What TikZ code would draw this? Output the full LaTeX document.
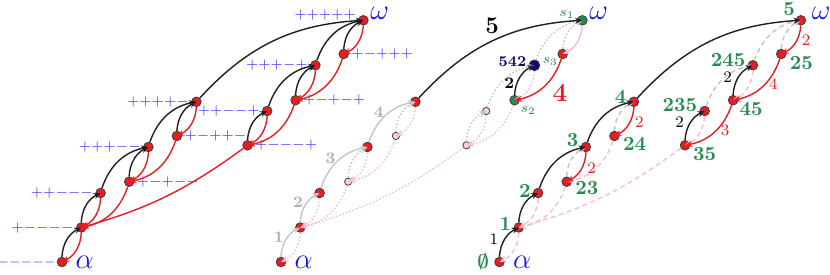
\documentclass[tikz,border=0pt]{standalone}
\usepackage{tikz}
\usetikzlibrary{arrows.meta}

\definecolor{vred}{RGB}{230,30,36}
\definecolor{vpink}{RGB}{250,212,224}
\definecolor{epink}{RGB}{246,190,206}
\definecolor{egrey}{RGB}{196,196,196}
\definecolor{vgreen}{RGB}{40,140,80}
\definecolor{vnavy}{RGB}{10,10,125}
\definecolor{sblue}{RGB}{60,60,250}
\definecolor{gblue}{RGB}{20,20,240}
\definecolor{vline}{RGB}{60,60,60}

\begin{document}
\begin{tikzpicture}[x=0.5pt, y=-0.5pt,
  vtx/.style={circle, draw=vline, line width=0.4pt, fill=vred, minimum size=4.8pt, inner sep=0pt},
  pale/.style={vtx, fill=vpink, minimum size=3.6pt},
  gvtx/.style={vtx, fill=vgreen},
  nvtx/.style={vtx, fill=vnavy, minimum size=5.4pt},
  sg/.style={text=sblue, font=\fontsize{6.8}{8}\selectfont, inner sep=1pt},
  grk/.style={text=gblue, font=\fontsize{14}{16}\selectfont, inner sep=4pt},
  omg/.style={grk, inner sep=0pt, label distance=2pt, yshift=-3pt},
  num/.style={text=vgreen, font=\bfseries, inner sep=1pt},
  slab/.style={text=vgreen, font=\scriptsize, inner sep=1pt},
  upa/.style={-{Stealth[length=3.6pt,width=3pt]}, line width=0.7pt, draw=black!88, bend left=30},
  dna/.style={upa, draw=vred},
  gup/.style={upa, draw=egrey},
  gdot/.style={gup, dash pattern=on 0.8pt off 1pt},
  gdash/.style={gup, dash pattern=on 2.5pt off 1.7pt},
  pk/.style={dna, draw=epink},
  pdot/.style={pk, dash pattern=on 0.8pt off 1pt},
  pdash/.style={pk, dash pattern=on 2.5pt off 1.7pt},
  lab/.style={left, font=\footnotesize, inner sep=3pt},
  rlab/.style={right, text=vred, font=\footnotesize, inner sep=3pt, yshift=1pt},
  glab/.style={left, text=egrey!90!black, font=\footnotesize\bfseries, inner sep=1pt, yshift=1.2pt}]
\useasboundingbox (0,0) rectangle (830,274);

% sign vectors
\begin{scope}[name prefix=l-]
\node[vtx, label={[sg, inner sep=0.5pt, font=\fontsize{6.5}{8}\selectfont]left:${-}{-}{-}{-}{-}$}, label={[grk]right:$\alpha$}] (n0) at (62,262) {};
\node[vtx, label={[sg]left:${+}{-}{-}{-}{-}$}] (n1) at (81.3,227.5) {};
\node[vtx, label={[sg]left:${+}{+}{-}{-}{-}$}] (n2) at (100.6,193) {};
\node[vtx, label={[sg]left:${+}{+}{+}{-}{-}$}] (n3) at (148.4,147) {};
\node[vtx, label={[sg]left:${+}{+}{+}{+}{-}$}] (n4) at (196.4,101.8) {};
\node[vtx, label={[sg, yshift=2.5pt]left:${+}{+}{+}{+}{+}$}, label={[omg]45:$\omega$}] (n5) at (363.4,20.3) {};
\node[vtx, label={[sg]right:${+}{-}{+}{-}{-}$}] (n23) at (129.2,181.7) {};
\node[vtx, label={[sg]right:${+}{-}{+}{+}{-}$}] (n24) at (176.9,136) {};
\node[vtx, label={[sg]left:${+}{+}{-}{-}{+}$}] (n235) at (267.2,111) {};
\node[vtx, label={[sg]left:${+}{+}{+}{-}{+}$}] (n245) at (315.4,65.3) {};
\node[vtx, label={[sg]right:${+}{-}{-}{-}{+}$}] (n35) at (247.5,145.3) {};
\node[vtx, label={[sg]right:${+}{-}{+}{-}{+}$}] (n45) at (295.6,100.2) {};
\node[vtx, label={[sg]right:${+}{-}{+}{+}{+}$}] (n25) at (343.7,54) {};

\draw[upa] (n0) to (n1);
\draw[upa] (n1) to (n2);
\draw[upa] (n2) to (n3);
\draw[upa] (n23) to (n3);
\draw[upa] (n3) to (n4);
\draw[upa] (n24) to (n4);
\draw[upa, bend left=22] (n4) to (n5);
\draw[upa] (n35) to (n235);
\draw[upa] (n235) to (n245);
\draw[upa] (n45) to (n245);
\draw[upa] (n245) to (n5);
\draw[upa] (n25) to (n5);
\draw[dna] (n1) to (n0);
\draw[dna] (n2) to (n1);
\draw[dna] (n23) to (n1);
\draw[dna, bend left=10] (n35) to (n1);
\draw[dna] (n3) to (n23);
\draw[dna] (n24) to (n23);
\draw[dna] (n4) to (n24);
\draw[dna] (n5) to (n25);
\draw[dna] (n25) to (n45);
\draw[dna] (n245) to (n45);
\draw[dna] (n45) to (n35);
\draw[dna] (n235) to (n35);
\end{scope}

% search
\begin{scope}[shift={(219,0)}, name prefix=m-]
\node[vtx, label={[grk]right:$\alpha$}] (n0) at (62,262) {};
\node[vtx] (n1) at (81.3,227.5) {};
\node[vtx] (n2) at (100.6,193) {};
\node[vtx] (n3) at (148.4,147) {};
\node[vtx] (n4) at (196.4,101.8) {};
\node[gvtx, label={[slab, yshift=3pt]left:$s_1$}, label={[omg]45:$\omega$}] (n5) at (363.4,20.3) {};
\node[pale] (n23) at (129.2,181.7) {};
\node[pale] (n24) at (176.9,136) {};
\node[pale] (n235) at (267.2,111) {};
\node[nvtx, label={[slab, yshift=2pt]right:$s_3$}, label={[text=vnavy, font=\fontsize{7.5}{9}\selectfont\bfseries, inner sep=1pt, yshift=1.8pt]left:542}] (n245) at (315.4,65.3) {};
\node[pale] (n35) at (247.5,145.3) {};
\node[gvtx, label={[slab]below right:$s_2$}] (n45) at (295.6,100.2) {};
\node[vtx] (n25) at (343.7,54) {};

\draw[gdot] (n23) to (n3);
\draw[gdot] (n24) to (n4);
\draw[gdot] (n35) to (n235);
\draw[gdot] (n235) to (n245);
\draw[gdot] (n245) to (n5);
\draw[gdot] (n25) to (n5);
\draw[pdot] (n1) to (n0);
\draw[pdot] (n2) to (n1);
\draw[pdot] (n23) to (n1);
\draw[pdot, bend left=10] (n35) to (n1);
\draw[pdot] (n3) to (n23);
\draw[pdot] (n24) to (n23);
\draw[pdot] (n4) to (n24);
\draw[pdot] (n245) to (n45);
\draw[pdot] (n45) to (n35);
\draw[pdot] (n235) to (n35);
\draw[pk] (n5) to (n25);
\draw[gup] (n0) to node[glab] {1} (n1);
\draw[gup] (n1) to node[glab] {2} (n2);
\draw[gup] (n2) to node[glab] {3} (n3);
\draw[gup] (n3) to node[glab] {4} (n4);
\draw[upa, bend left=22] (n4) to node[above=2pt, inner sep=1.5pt, font=\large\bfseries] {5} (n5);
\draw[upa] (n45) to node[pos=0.3, left, font=\footnotesize\bfseries, inner sep=1pt] {2} (n245);
\draw[dna] (n25) to node[right=2pt, yshift=-3pt, text=vred, font=\fontsize{13}{15}\selectfont\bfseries, inner sep=2pt] {4} (n45);
\end{scope}

% labelled sets
\begin{scope}[shift={(437.5,0)}, name prefix=r-]
\node[vtx, label={[num, font=\bfseries\boldmath, inner sep=2.5pt]left:$\emptyset$}, label={[grk]right:$\alpha$}] (n0) at (62,262) {};
\node[vtx, label={[num, yshift=1.7pt]left:1}] (n1) at (81.3,227.5) {};
\node[vtx, label={[num, yshift=1pt]left:2}] (n2) at (100.6,193) {};
\node[vtx, label={[num, yshift=3.6pt]left:3}] (n3) at (148.4,147) {};
\node[vtx, label={[num, yshift=2.5pt]left:4}] (n4) at (196.4,101.8) {};
\node[vtx, label={[num, yshift=-0.5pt]above left:5}, label={[omg, xshift=2pt]45:$\omega$}] (n5) at (363.4,20.3) {};
\node[vtx, label={[num, yshift=-3.3pt, inner sep=1.5pt]right:23}] (n23) at (129.2,181.7) {};
\node[vtx, label={[num, yshift=-4pt, inner sep=1.5pt]right:24}] (n24) at (176.9,136) {};
\node[vtx, label={[num, yshift=3pt]left:235}] (n235) at (267.2,111) {};
\node[vtx, label={[num, yshift=2.6pt]left:245}] (n245) at (315.4,65.3) {};
\node[vtx, label={[num, yshift=-4.2pt, inner sep=1.3pt]right:35}] (n35) at (247.5,145.3) {};
\node[vtx, label={[num, yshift=-4.6pt, inner sep=0.5pt]right:45}] (n45) at (295.6,100.2) {};
\node[vtx, label={[num, yshift=-4.5pt, inner sep=1.5pt]right:25}] (n25) at (343.7,54) {};

\draw[gdash] (n23) to (n3);
\draw[gdash] (n24) to (n4);
\draw[gdash] (n235) to (n245);
\draw[gdash] (n245) to (n5);
\draw[gdash] (n25) to (n5);
\draw[pdash] (n1) to (n0);
\draw[pdash] (n2) to (n1);
\draw[pdash] (n23) to (n1);
\draw[pdash, bend left=10] (n35) to (n1);
\draw[pdash] (n24) to (n23);
\draw[pdash] (n245) to (n45);
\draw[pdash] (n235) to (n35);
\draw[upa] (n0) to node[lab] {1} (n1);
\draw[upa] (n1) to (n2);
\draw[upa] (n2) to (n3);
\draw[upa] (n3) to (n4);
\draw[upa, bend left=22] (n4) to (n5);
\draw[upa] (n35) to node[lab] {2} (n235);
\draw[upa] (n45) to node[lab] {2} (n245);
\draw[dna] (n3) to node[rlab] {2} (n23);
\draw[dna] (n4) to node[rlab] {2} (n24);
\draw[dna] (n5) to node[rlab] {2} (n25);
\draw[dna] (n25) to node[rlab] {4} (n45);
\draw[dna] (n45) to node[rlab] {3} (n35);
\end{scope}
\end{tikzpicture}
\end{document}
